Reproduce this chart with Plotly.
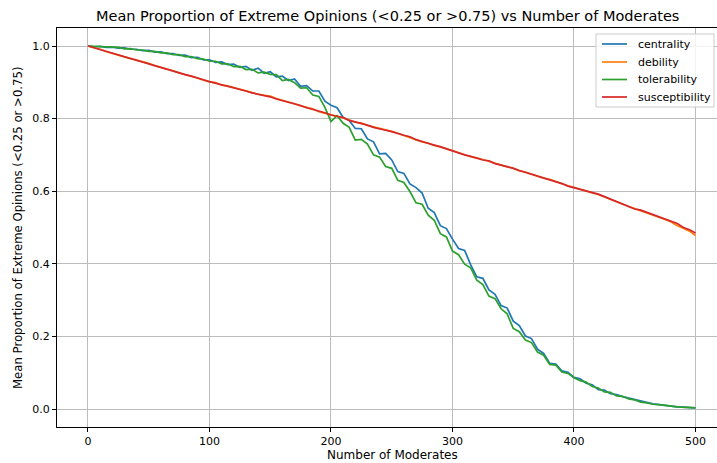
import plotly.graph_objects as go

# Number of moderates (sampled every 5)
moderates = list(range(0, 501, 5))

centrality = [
    1.000, 0.998, 0.999, 0.996, 0.997, 0.994, 0.995, 0.991, 0.991, 0.987,
    0.988, 0.983, 0.984, 0.979, 0.979, 0.974, 0.975, 0.968, 0.969, 0.962,
    0.962, 0.955, 0.956, 0.949, 0.950, 0.941, 0.944, 0.933, 0.939, 0.925,
    0.929, 0.915, 0.917, 0.905, 0.909, 0.889, 0.891, 0.876, 0.876, 0.848,
    0.837, 0.830, 0.803, 0.795, 0.773, 0.772, 0.744, 0.736, 0.703, 0.704,
    0.686, 0.654, 0.649, 0.620, 0.610, 0.595, 0.553, 0.541, 0.505, 0.497,
    0.468, 0.442, 0.437, 0.397, 0.364, 0.360, 0.328, 0.316, 0.285, 0.278,
    0.242, 0.230, 0.201, 0.194, 0.165, 0.153, 0.126, 0.124, 0.105, 0.101,
    0.087, 0.083, 0.071, 0.067, 0.053, 0.052, 0.042, 0.040, 0.034, 0.030,
    0.024, 0.021, 0.016, 0.014, 0.012, 0.009, 0.008, 0.006, 0.005, 0.004,
    0.003,
]

debility = [
    1.000, 0.996, 0.991, 0.985, 0.981, 0.975, 0.970, 0.966, 0.960, 0.957,
    0.952, 0.946, 0.942, 0.937, 0.932, 0.926, 0.922, 0.916, 0.912, 0.906,
    0.901, 0.899, 0.892, 0.890, 0.885, 0.880, 0.877, 0.872, 0.867, 0.864,
    0.862, 0.855, 0.851, 0.845, 0.841, 0.835, 0.831, 0.827, 0.819, 0.815,
    0.811, 0.805, 0.802, 0.796, 0.790, 0.788, 0.781, 0.777, 0.772, 0.769,
    0.765, 0.759, 0.753, 0.749, 0.743, 0.736, 0.732, 0.726, 0.723, 0.717,
    0.711, 0.706, 0.701, 0.695, 0.692, 0.687, 0.681, 0.677, 0.673, 0.667,
    0.664, 0.656, 0.653, 0.647, 0.643, 0.636, 0.633, 0.627, 0.620, 0.615,
    0.611, 0.605, 0.601, 0.595, 0.591, 0.584, 0.579, 0.571, 0.563, 0.558,
    0.552, 0.546, 0.541, 0.536, 0.529, 0.522, 0.515, 0.505, 0.498, 0.490,
    0.478,
]

tolerability = [
    1.000, 0.999, 0.997, 0.998, 0.995, 0.996, 0.992, 0.993, 0.989, 0.989,
    0.985, 0.985, 0.981, 0.981, 0.976, 0.976, 0.971, 0.971, 0.965, 0.964,
    0.958, 0.958, 0.951, 0.951, 0.943, 0.944, 0.935, 0.936, 0.926, 0.928,
    0.922, 0.921, 0.905, 0.908, 0.899, 0.884, 0.885, 0.865, 0.861, 0.831,
    0.792, 0.808, 0.787, 0.776, 0.741, 0.743, 0.730, 0.700, 0.694, 0.668,
    0.663, 0.630, 0.624, 0.599, 0.568, 0.564, 0.534, 0.520, 0.483, 0.474,
    0.435, 0.425, 0.399, 0.389, 0.355, 0.343, 0.311, 0.304, 0.276, 0.262,
    0.222, 0.213, 0.190, 0.183, 0.157, 0.148, 0.123, 0.121, 0.102, 0.098,
    0.086, 0.078, 0.074, 0.062, 0.058, 0.047, 0.046, 0.036, 0.035, 0.028,
    0.025, 0.019, 0.017, 0.013, 0.012, 0.009, 0.008, 0.006, 0.005, 0.003,
    0.003,
]

susceptibility = [
    1.000, 0.995, 0.990, 0.986, 0.980, 0.976, 0.971, 0.965, 0.961, 0.956,
    0.951, 0.947, 0.941, 0.936, 0.931, 0.927, 0.921, 0.917, 0.911, 0.907,
    0.902, 0.898, 0.893, 0.889, 0.884, 0.881, 0.876, 0.871, 0.868, 0.863,
    0.860, 0.854, 0.850, 0.846, 0.840, 0.836, 0.830, 0.826, 0.820, 0.816,
    0.810, 0.806, 0.803, 0.795, 0.791, 0.787, 0.782, 0.776, 0.773, 0.768,
    0.764, 0.758, 0.754, 0.750, 0.742, 0.737, 0.731, 0.727, 0.722, 0.716,
    0.712, 0.705, 0.700, 0.696, 0.691, 0.686, 0.684, 0.676, 0.672, 0.668,
    0.663, 0.657, 0.652, 0.648, 0.642, 0.637, 0.632, 0.628, 0.621, 0.614,
    0.610, 0.606, 0.600, 0.596, 0.592, 0.585, 0.578, 0.570, 0.564, 0.557,
    0.551, 0.548, 0.542, 0.535, 0.530, 0.523, 0.516, 0.511, 0.500, 0.494,
    0.485,
]

series_names = ["centrality", "debility", "tolerability", "susceptibility"]
series_values = [centrality, debility, tolerability, susceptibility]
series_colors = ["#1f77b4", "#ff7f0e", "#2ca02c", "#d62728"]

x_ticks = [0, 100, 200, 300, 400, 500]
y_ticks = [0.0, 0.2, 0.4, 0.6, 0.8, 1.0]

W, H = 717, 463
M_L, M_R, M_T, M_B = 57, 0, 28, 36
PW, PH = W - M_L - M_R, H - M_T - M_B
FONT = "DejaVu Sans"


def px(xp):
    return (xp - M_L) / PW


def py(yp):
    return (H - M_B - yp) / PH


fig = go.Figure()
for name, vals, col in zip(series_names, series_values, series_colors):
    fig.add_trace(go.Scatter(
        x=moderates, y=vals, mode="lines", name=name,
        line=dict(color=col, width=1.7), showlegend=False,
    ))

axis_common = dict(
    showgrid=True, gridcolor="#bcbcbc", gridwidth=1,
    zeroline=False, showline=True, linecolor="black", linewidth=1,
    ticks="outside", ticklen=4, tickwidth=1, tickcolor="black",
    tickfont=dict(family=FONT, size=11, color="black"),
)

fig.update_xaxes(range=[-25.5, 517.7], tickvals=x_ticks, mirror=True, **axis_common)
fig.update_yaxes(range=[-0.0496, 1.0496], tickvals=y_ticks, tickformat=".1f", **axis_common)

annotations = [
    dict(text="Mean Proportion of Extreme Opinions (<0.25 or >0.75) vs Number of Moderates",
         x=px(387.5), y=py(16), xref="paper", yref="paper", showarrow=False,
         xanchor="center", yanchor="middle",
         font=dict(family=FONT, size=14.5, color="black")),
    dict(text="Number of Moderates", x=px(392), y=py(455), xref="paper", yref="paper",
         showarrow=False, xanchor="center", yanchor="middle",
         font=dict(family=FONT, size=12, color="black")),
    dict(text="Mean Proportion of Extreme Opinions (<0.25 or >0.75)", x=px(18), y=py(228),
         xref="paper", yref="paper", showarrow=False, textangle=-90,
         xanchor="center", yanchor="middle",
         font=dict(family=FONT, size=11.7, color="black")),
]

# Legend box in the upper-right corner
shapes = [dict(type="rect", xref="paper", yref="paper",
               x0=px(596), x1=px(714), y0=py(107), y1=py(34),
               line=dict(color="#cccccc", width=1), fillcolor="rgba(255,255,255,0.8)",
               layer="above")]
row_y = [44, 62, 79.5, 97]
for name, col, ry in zip(series_names, series_colors, row_y):
    shapes.append(dict(type="line", xref="paper", yref="paper",
                       x0=px(602), x1=px(627), y0=py(ry), y1=py(ry),
                       line=dict(color=col, width=1.7), layer="above"))
    annotations.append(dict(text=name, x=px(636), y=py(ry), xref="paper", yref="paper",
                            showarrow=False, xanchor="left", yanchor="middle",
                            font=dict(family=FONT, size=11, color="black")))

fig.update_layout(
    width=W, height=H,
    margin=dict(l=M_L, r=M_R, t=M_T, b=M_B, pad=0),
    plot_bgcolor="white", paper_bgcolor="white",
    annotations=annotations, shapes=shapes,
    font=dict(family=FONT, color="black"),
)

fig.write_html("out.html")
